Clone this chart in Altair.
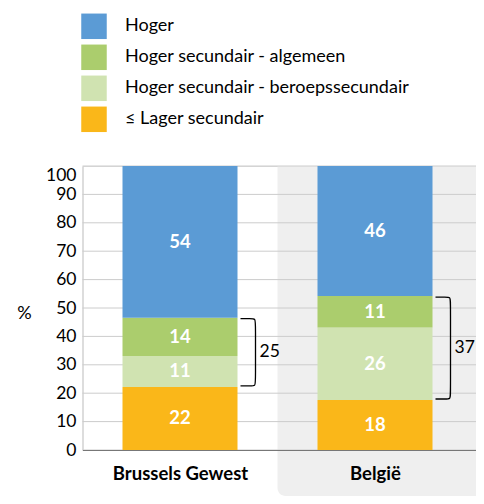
import json
import altair as alt
import pandas as pd

# ---------------- data ----------------
categories = ["Brussels Gewest", "België"]
# levels from bottom to top of each bar
levels = ["≤ Lager secundair", "Hoger secundair - beroepssecundair",
          "Hoger secundair - algemeen", "Hoger"]
colors = ["#FAB719", "#D0E3B1", "#ABCD6D", "#5B9BD5"]
values_brussels = [22.2, 10.9, 13.5, 53.4]
values_belgie = [17.6, 25.5, 11.1, 45.8]
labels_brussels = [22, 11, 14, 54]
labels_belgie = [18, 26, 11, 46]
bracket_labels = [25, 37]
y_ticks = list(range(0, 101, 10))

# ---------------- layout ----------------
STEP = 195.0                 # pixels per category band
W, H = 393.5, 284
XMAX = W / STEP
BAR_HALF = 57.5 / STEP
PX_X = 1.0 / STEP            # data units per pixel (x)
PX_Y = 100.0 / H             # data units per pixel (y)
FONT = "Lato"

bar_rows, br_rows, br_text = [], [], []
for ci, (cat, vals, labs) in enumerate(zip(categories,
                                           [values_brussels, values_belgie],
                                           [labels_brussels, labels_belgie])):
    cum = 0.0
    bounds = [0.0]
    for lvl, v, lab in zip(levels, vals, labs):
        bar_rows.append(dict(cat=cat, level=lvl, x=ci + 0.5 - BAR_HALF,
                             x2=ci + 0.5 + BAR_HALF, y=cum, y2=cum + v,
                             ym=cum + v / 2, label=str(lab)))
        cum += v
        bounds.append(cum)
    # bracket over the two "Hoger secundair" segments
    bot, top = bounds[1] + 1 * PX_Y, bounds[3] - 1 * PX_Y
    xr = ci + 0.5 + BAR_HALF
    xa, xb, r, ry = xr + 3 * PX_X, xr + 18 * PX_X, 5 * PX_X, 5 * PX_Y
    pts = [(xa, top), (xb - r, top), (xb, top), (xb, top - ry),
           (xb, bot + ry), (xb, bot), (xb - r, bot), (xa, bot)]
    for o, (px, py) in enumerate(pts):
        br_rows.append(dict(g=cat, o=o, x=px, y=py))
    br_text.append(dict(x=xb + 4 * PX_X, y=(top + bot) / 2,
                        label=str(bracket_labels[ci])))

bars_df = pd.DataFrame(bar_rows)
br_df = pd.DataFrame(br_rows)
brt_df = pd.DataFrame(br_text)
grid_df = pd.DataFrame({"y": y_ticks, "x": [0] * len(y_ticks), "x2": [XMAX] * len(y_ticks)})
bg_df = pd.DataFrame({"x": [1], "x2": [XMAX]})

xscale = alt.Scale(domain=[0, XMAX], nice=False, zero=False)
yscale = alt.Scale(domain=[0, 100], nice=False)

xaxis = alt.Axis(values=[0.5, 1.5], labelExpr=f"{json.dumps(categories)}[floor(datum.value)]",
                 ticks=False, tickSize=0, grid=False, domainColor="#777777", domainWidth=1.2,
                 labelFont=FONT, labelFontWeight="bold", labelFontSize=18.5, labelColor="#000000",
                 labelPadding=14, labelFlush=False, labelOverlap=False, title=None, zindex=1)
yaxis = alt.Axis(values=y_ticks, ticks=False, tickSize=0, grid=False, domainColor="#CCCCCC",
                 labelFont=FONT, labelFontSize=17.5, labelColor="#000000", labelPadding=6.5,
                 labelBaseline={"condition": {"test": "datum.value == 100", "value": "top"},
                                "value": "middle"},
                 title="%", titleAngle=0, titleX=-58.5, titleY=147, titleFont=FONT,
                 titleFontSize=18, titleFontWeight="normal", titleColor="#000000",
                 titleAlign="center", titleBaseline="middle")

X = alt.X("x:Q", scale=xscale, axis=xaxis)
Y = alt.Y("y:Q", scale=yscale, axis=yaxis)

bg = alt.Chart(bg_df).mark_rect(color="#EFEFEF", cornerRadiusBottomLeft=8).encode(
    x=X, x2="x2:Q", y=alt.value(0), y2=alt.value(H + 46))

grid = alt.Chart(grid_df).mark_rule(color="#CCCCCC", strokeWidth=1).encode(
    x=X, x2="x2:Q", y=Y)

bars = alt.Chart(bars_df).mark_rect().encode(
    x=X, x2="x2:Q", y=Y, y2="y2:Q",
    color=alt.Color("level:N",
                    scale=alt.Scale(domain=list(reversed(levels)), range=list(reversed(colors))),
                    legend=alt.Legend(orient="none", legendX=-1.5, legendY=-152.7, title=None,
                                      symbolType="square", symbolSize=650, symbolStrokeWidth=0,
                                      symbolOpacity=1, labelFont=FONT, labelFontSize=18,
                                      labelColor="#000000", labelOffset=18, rowPadding=5,
                                      padding=0, labelLimit=400)))

bar_text = alt.Chart(bars_df).mark_text(font=FONT, fontWeight="bold", fontSize=18.5,
                                        color="white", baseline="middle").encode(
    x=alt.X("xm:Q", scale=xscale, axis=xaxis), y=alt.Y("ym:Q", scale=yscale, axis=yaxis),
    text="label:N").transform_calculate(xm="(datum.x + datum.x2) / 2")

brackets = alt.Chart(br_df).mark_line(color="#000000", strokeWidth=1.3,
                                      interpolate="basis").encode(
    x=X, y=Y, order="o:Q", detail="g:N")

bracket_text = alt.Chart(brt_df).mark_text(font=FONT, fontSize=17.5, color="#000000",
                                           align="left", baseline="middle").encode(
    x=X, y=Y, text="label:N")

chart = alt.layer(bg, grid, bars, bar_text, brackets, bracket_text).properties(
    width=W, height=H,
    autosize=alt.AutoSizeParams(type="none"),
    padding={"left": 74.5, "top": 158, "right": 0, "bottom": 46},
).configure_view(stroke=None).configure(font=FONT)

chart.save("out.html", embed_options={"renderer": "svg", "actions": False})
